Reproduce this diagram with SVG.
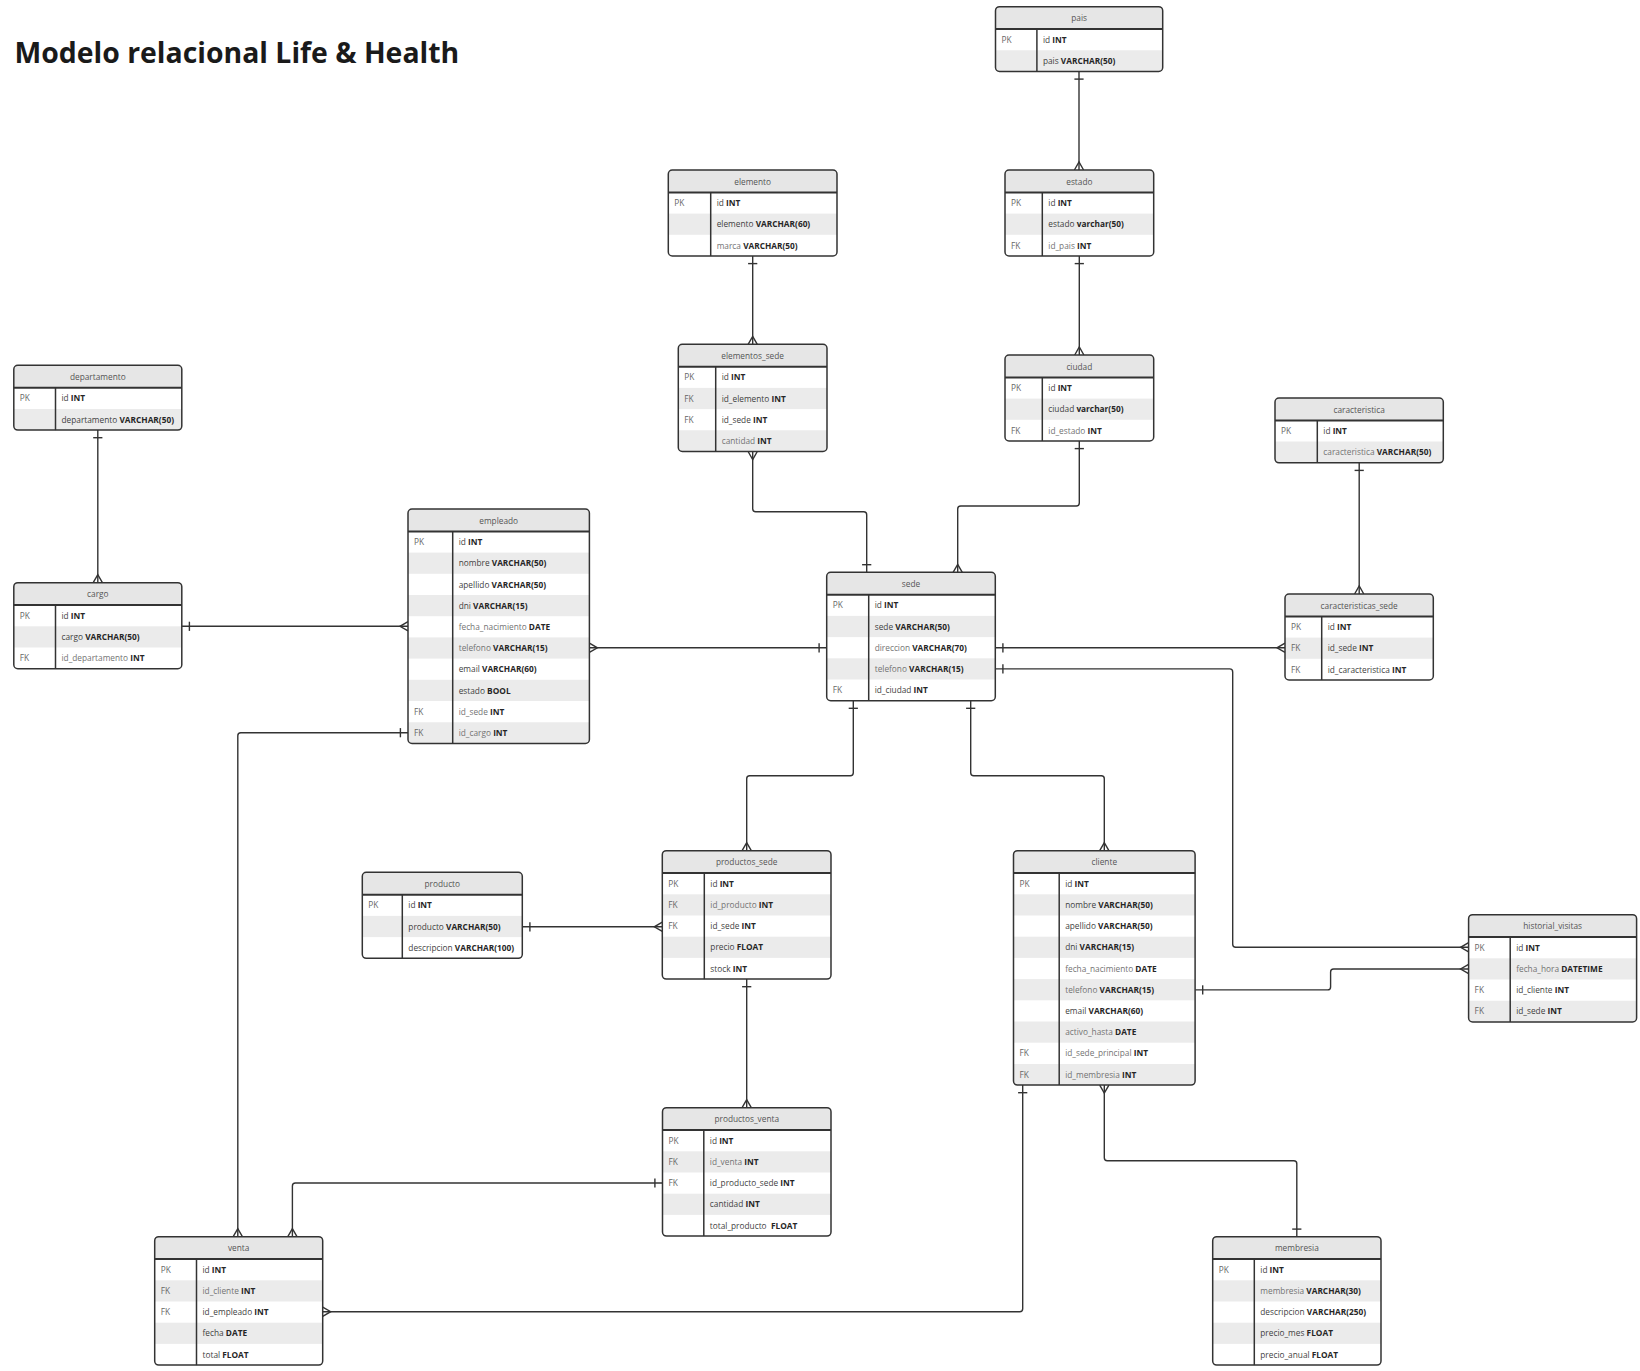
<svg xmlns="http://www.w3.org/2000/svg" width="1640" height="1371" viewBox="0 0 1640 1371">
<defs>
<style>
.box{fill:#fff}
.hd{fill:#e6e6e6}
.g{fill:#ebebeb}
.ol{fill:none;stroke:#333;stroke-width:1.5}
.hl{stroke:#333;stroke-width:2}
.dv{stroke:#333;stroke-width:1.5}
text{font-family:"Open Sans","Noto Sans","Liberation Sans",sans-serif;font-size:8.3px}
.title{font-size:28.4px;font-weight:bold;fill:#1a1a1a}
.h{fill:#555;text-anchor:middle}
.k{fill:#666}
.n{fill:#3f3f3f}
.l{fill:#737373}
.t{fill:#262626;font-weight:bold}
.c{fill:none;stroke:#333;stroke-width:1.4;marker-start:url(#one);marker-end:url(#many)}
.m{fill:none;stroke:#333;stroke-width:1.4}
</style>
<marker id="one" markerUnits="userSpaceOnUse" viewBox="-12 -12 24 24" markerWidth="24" markerHeight="24" refX="0" refY="0" orient="auto-start-reverse" overflow="visible"><path class="m" d="M-7.6,-4.6V4.6"/></marker>
<marker id="many" markerUnits="userSpaceOnUse" viewBox="-12 -12 24 24" markerWidth="24" markerHeight="24" refX="0" refY="0" orient="auto-start-reverse" overflow="visible"><path class="m" d="M0,-4.6L-8,0L0,4.6"/></marker>
</defs>
<rect width="1640" height="1371" fill="#fff"/>
<text class="title" x="14.5" y="63">Modelo relacional Life &amp; Health</text>

<g id="connectors">
<path class="c" d="M1079,71.5V170"/>
<path class="c" d="M752.7,256V344.3"/>
<path class="c" d="M1079.3,256V355"/>
<path class="c" d="M97.8,430.1V582.7"/>
<path class="c" d="M181.8,626.3H408"/>
<path class="c" d="M826.7,647.8H589.4"/>
<path class="c" d="M866.7,572.3V514.7Q866.7,511.7 863.7,511.7H755.7Q752.7,511.7 752.7,508.7V451.5"/>
<path class="c" d="M1079.3,441V503Q1079.3,506 1076.3,506H960.7Q957.7,506 957.7,509V572.3"/>
<path class="c" d="M1359.2,462.8V594"/>
<path class="c" d="M995.3,647.8H1285"/>
<path class="c" d="M995.3,668.9H1229.7Q1232.7,668.9 1232.7,671.9V944.3Q1232.7,947.3 1235.7,947.3H1468.6"/>
<path class="c" d="M853.3,700.7V772.7Q853.3,775.7 850.3,775.7H749.7Q746.7,775.7 746.7,778.7V850.7"/>
<path class="c" d="M970.7,700.7V772.7Q970.7,775.7 973.7,775.7H1101.3Q1104.3,775.7 1104.3,778.7V850.7"/>
<path class="c" d="M522.3,926.8H662.3"/>
<path class="c" d="M746.7,979.1V1107.7"/>
<path class="c" d="M1195.1,989.9H1327.6Q1330.6,989.9 1330.6,986.9V972Q1330.6,969 1333.6,969H1468.6"/>
<path class="c" d="M1296.8,1236.7V1163.7Q1296.8,1160.7 1293.8,1160.7H1107.3Q1104.3,1160.7 1104.3,1157.7V1085.1"/>
<path class="c" d="M1022.7,1085.1V1308.7Q1022.7,1311.7 1019.7,1311.7H322.7"/>
<path class="c" d="M408,732.7H240.8Q237.8,732.7 237.8,735.7V1236.7"/>
<path class="c" d="M662.5,1183H295.4Q292.4,1183 292.4,1186V1236.7"/>
</g>

<g id="pais" transform="translate(995.5,6.7)">
<rect class="box" width="167.2" height="64.8" rx="4"/>
<path class="hd" d="M0,22.4V4Q0,0 4,0H163.2Q167.2,0 167.2,4V22.4Z"/>
<path class="g" d="M0,43.6H167.2V60.8Q167.2,64.8 163.2,64.8H4Q0,64.8 0,60.8Z"/>
<line class="hl" x1="0" y1="22.4" x2="167.2" y2="22.4"/>
<line class="dv" x1="41.4" y1="22.4" x2="41.4" y2="64.8"/>
<rect class="ol" width="167.2" height="64.8" rx="4"/>
<text class="h" x="83.6" y="14.6">pais</text>
<text class="k" x="6" y="36.2">PK</text>
<text x="47.4" y="36.2"><tspan class="n">id </tspan><tspan class="t">INT</tspan></text>
<text x="47.4" y="57.4"><tspan class="n">pais </tspan><tspan class="t">VARCHAR(50)</tspan></text>
</g>

<g id="elemento" transform="translate(668.3,170)">
<rect class="box" width="168.7" height="86" rx="4"/>
<path class="hd" d="M0,22.4V4Q0,0 4,0H164.7Q168.7,0 168.7,4V22.4Z"/>
<rect class="g" y="43.6" width="168.7" height="21.2"/>
<line class="hl" x1="0" y1="22.4" x2="168.7" y2="22.4"/>
<line class="dv" x1="42.4" y1="22.4" x2="42.4" y2="86"/>
<rect class="ol" width="168.7" height="86" rx="4"/>
<text class="h" x="84.35" y="14.6">elemento</text>
<text class="k" x="6" y="36.2">PK</text>
<text x="48.4" y="36.2"><tspan class="n">id </tspan><tspan class="t">INT</tspan></text>
<text x="48.4" y="57.4"><tspan class="n">elemento </tspan><tspan class="t">VARCHAR(60)</tspan></text>
<text x="48.4" y="78.6"><tspan class="l">marca </tspan><tspan class="t">VARCHAR(50)</tspan></text>
</g>

<g id="estado" transform="translate(1005,170)">
<rect class="box" width="148.7" height="86" rx="4"/>
<path class="hd" d="M0,22.4V4Q0,0 4,0H144.7Q148.7,0 148.7,4V22.4Z"/>
<rect class="g" y="43.6" width="148.7" height="21.2"/>
<line class="hl" x1="0" y1="22.4" x2="148.7" y2="22.4"/>
<line class="dv" x1="37.3" y1="22.4" x2="37.3" y2="86"/>
<rect class="ol" width="148.7" height="86" rx="4"/>
<text class="h" x="74.35" y="14.6">estado</text>
<text class="k" x="6" y="36.2">PK</text>
<text x="43.3" y="36.2"><tspan class="n">id </tspan><tspan class="t">INT</tspan></text>
<text x="43.3" y="57.4"><tspan class="n">estado </tspan><tspan class="t">varchar(50)</tspan></text>
<text class="k" x="6" y="78.6">FK</text>
<text x="43.3" y="78.6"><tspan class="l">id_pais </tspan><tspan class="t">INT</tspan></text>
</g>

<g id="elementos_sede" transform="translate(678.3,344.3)">
<rect class="box" width="148.7" height="107.2" rx="4"/>
<path class="hd" d="M0,22.4V4Q0,0 4,0H144.7Q148.7,0 148.7,4V22.4Z"/>
<rect class="g" y="43.6" width="148.7" height="21.2"/>
<path class="g" d="M0,86H148.7V103.2Q148.7,107.2 144.7,107.2H4Q0,107.2 0,103.2Z"/>
<line class="hl" x1="0" y1="22.4" x2="148.7" y2="22.4"/>
<line class="dv" x1="37.4" y1="22.4" x2="37.4" y2="107.2"/>
<rect class="ol" width="148.7" height="107.2" rx="4"/>
<text class="h" x="74.35" y="14.6">elementos_sede</text>
<text class="k" x="6" y="36.2">PK</text>
<text x="43.4" y="36.2"><tspan class="n">id </tspan><tspan class="t">INT</tspan></text>
<text class="k" x="6" y="57.4">FK</text>
<text x="43.4" y="57.4"><tspan class="n">id_elemento </tspan><tspan class="t">INT</tspan></text>
<text class="k" x="6" y="78.6">FK</text>
<text x="43.4" y="78.6"><tspan class="n">id_sede </tspan><tspan class="t">INT</tspan></text>
<text x="43.4" y="99.8"><tspan class="l">cantidad </tspan><tspan class="t">INT</tspan></text>
</g>

<g id="ciudad" transform="translate(1005,355)">
<rect class="box" width="148.7" height="86" rx="4"/>
<path class="hd" d="M0,22.4V4Q0,0 4,0H144.7Q148.7,0 148.7,4V22.4Z"/>
<rect class="g" y="43.6" width="148.7" height="21.2"/>
<line class="hl" x1="0" y1="22.4" x2="148.7" y2="22.4"/>
<line class="dv" x1="37.3" y1="22.4" x2="37.3" y2="86"/>
<rect class="ol" width="148.7" height="86" rx="4"/>
<text class="h" x="74.35" y="14.6">ciudad</text>
<text class="k" x="6" y="36.2">PK</text>
<text x="43.3" y="36.2"><tspan class="n">id </tspan><tspan class="t">INT</tspan></text>
<text x="43.3" y="57.4"><tspan class="n">ciudad </tspan><tspan class="t">varchar(50)</tspan></text>
<text class="k" x="6" y="78.6">FK</text>
<text x="43.3" y="78.6"><tspan class="l">id_estado </tspan><tspan class="t">INT</tspan></text>
</g>

<g id="departamento" transform="translate(13.8,365.3)">
<rect class="box" width="168" height="64.8" rx="4"/>
<path class="hd" d="M0,22.4V4Q0,0 4,0H164Q168,0 168,4V22.4Z"/>
<path class="g" d="M0,43.6H168V60.8Q168,64.8 164,64.8H4Q0,64.8 0,60.8Z"/>
<line class="hl" x1="0" y1="22.4" x2="168" y2="22.4"/>
<line class="dv" x1="41.7" y1="22.4" x2="41.7" y2="64.8"/>
<rect class="ol" width="168" height="64.8" rx="4"/>
<text class="h" x="84" y="14.6">departamento</text>
<text class="k" x="6" y="36.2">PK</text>
<text x="47.7" y="36.2"><tspan class="n">id </tspan><tspan class="t">INT</tspan></text>
<text x="47.7" y="57.4"><tspan class="n">departamento </tspan><tspan class="t">VARCHAR(50)</tspan></text>
</g>

<g id="cargo" transform="translate(13.8,582.7)">
<rect class="box" width="168" height="86" rx="4"/>
<path class="hd" d="M0,22.4V4Q0,0 4,0H164Q168,0 168,4V22.4Z"/>
<rect class="g" y="43.6" width="168" height="21.2"/>
<line class="hl" x1="0" y1="22.4" x2="168" y2="22.4"/>
<line class="dv" x1="41.7" y1="22.4" x2="41.7" y2="86"/>
<rect class="ol" width="168" height="86" rx="4"/>
<text class="h" x="84" y="14.6">cargo</text>
<text class="k" x="6" y="36.2">PK</text>
<text x="47.7" y="36.2"><tspan class="n">id </tspan><tspan class="t">INT</tspan></text>
<text x="47.7" y="57.4"><tspan class="n">cargo </tspan><tspan class="t">VARCHAR(50)</tspan></text>
<text class="k" x="6" y="78.6">FK</text>
<text x="47.7" y="78.6"><tspan class="l">id_departamento </tspan><tspan class="t">INT</tspan></text>
</g>

<g id="empleado" transform="translate(408,509)">
<rect class="box" width="181.4" height="234.4" rx="4"/>
<path class="hd" d="M0,22.4V4Q0,0 4,0H177.4Q181.4,0 181.4,4V22.4Z"/>
<rect class="g" y="43.6" width="181.4" height="21.2"/>
<rect class="g" y="86" width="181.4" height="21.2"/>
<rect class="g" y="128.4" width="181.4" height="21.2"/>
<rect class="g" y="170.8" width="181.4" height="21.2"/>
<path class="g" d="M0,213.2H181.4V230.4Q181.4,234.4 177.4,234.4H4Q0,234.4 0,230.4Z"/>
<line class="hl" x1="0" y1="22.4" x2="181.4" y2="22.4"/>
<line class="dv" x1="44.7" y1="22.4" x2="44.7" y2="234.4"/>
<rect class="ol" width="181.4" height="234.4" rx="4"/>
<text class="h" x="90.7" y="14.6">empleado</text>
<text class="k" x="6" y="36.2">PK</text>
<text x="50.7" y="36.2"><tspan class="n">id </tspan><tspan class="t">INT</tspan></text>
<text x="50.7" y="57.4"><tspan class="n">nombre </tspan><tspan class="t">VARCHAR(50)</tspan></text>
<text x="50.7" y="78.6"><tspan class="n">apellido </tspan><tspan class="t">VARCHAR(50)</tspan></text>
<text x="50.7" y="99.8"><tspan class="n">dni </tspan><tspan class="t">VARCHAR(15)</tspan></text>
<text x="50.7" y="121"><tspan class="l">fecha_nacimiento </tspan><tspan class="t">DATE</tspan></text>
<text x="50.7" y="142.2"><tspan class="l">telefono </tspan><tspan class="t">VARCHAR(15)</tspan></text>
<text x="50.7" y="163.4"><tspan class="n">email </tspan><tspan class="t">VARCHAR(60)</tspan></text>
<text x="50.7" y="184.6"><tspan class="n">estado </tspan><tspan class="t">BOOL</tspan></text>
<text class="k" x="6" y="205.8">FK</text>
<text x="50.7" y="205.8"><tspan class="l">id_sede </tspan><tspan class="t">INT</tspan></text>
<text class="k" x="6" y="227">FK</text>
<text x="50.7" y="227"><tspan class="l">id_cargo </tspan><tspan class="t">INT</tspan></text>
</g>

<g id="caracteristica" transform="translate(1275,398)">
<rect class="box" width="168.3" height="64.8" rx="4"/>
<path class="hd" d="M0,22.4V4Q0,0 4,0H164.3Q168.3,0 168.3,4V22.4Z"/>
<path class="g" d="M0,43.6H168.3V60.8Q168.3,64.8 164.3,64.8H4Q0,64.8 0,60.8Z"/>
<line class="hl" x1="0" y1="22.4" x2="168.3" y2="22.4"/>
<line class="dv" x1="42.3" y1="22.4" x2="42.3" y2="64.8"/>
<rect class="ol" width="168.3" height="64.8" rx="4"/>
<text class="h" x="84.15" y="14.6">caracteristica</text>
<text class="k" x="6" y="36.2">PK</text>
<text x="48.3" y="36.2"><tspan class="n">id </tspan><tspan class="t">INT</tspan></text>
<text x="48.3" y="57.4"><tspan class="l">caracteristica </tspan><tspan class="t">VARCHAR(50)</tspan></text>
</g>

<g id="sede" transform="translate(826.7,572.3)">
<rect class="box" width="168.6" height="128.4" rx="4"/>
<path class="hd" d="M0,22.4V4Q0,0 4,0H164.6Q168.6,0 168.6,4V22.4Z"/>
<rect class="g" y="43.6" width="168.6" height="21.2"/>
<rect class="g" y="86" width="168.6" height="21.2"/>
<line class="hl" x1="0" y1="22.4" x2="168.6" y2="22.4"/>
<line class="dv" x1="42" y1="22.4" x2="42" y2="128.4"/>
<rect class="ol" width="168.6" height="128.4" rx="4"/>
<text class="h" x="84.3" y="14.6">sede</text>
<text class="k" x="6" y="36.2">PK</text>
<text x="48" y="36.2"><tspan class="n">id </tspan><tspan class="t">INT</tspan></text>
<text x="48" y="57.4"><tspan class="n">sede </tspan><tspan class="t">VARCHAR(50)</tspan></text>
<text x="48" y="78.6"><tspan class="l">direccion </tspan><tspan class="t">VARCHAR(70)</tspan></text>
<text x="48" y="99.8"><tspan class="l">telefono </tspan><tspan class="t">VARCHAR(15)</tspan></text>
<text class="k" x="6" y="121">FK</text>
<text x="48" y="121"><tspan class="n">id_ciudad </tspan><tspan class="t">INT</tspan></text>
</g>

<g id="caracteristicas_sede" transform="translate(1285,594)">
<rect class="box" width="148.3" height="86" rx="4"/>
<path class="hd" d="M0,22.4V4Q0,0 4,0H144.3Q148.3,0 148.3,4V22.4Z"/>
<rect class="g" y="43.6" width="148.3" height="21.2"/>
<line class="hl" x1="0" y1="22.4" x2="148.3" y2="22.4"/>
<line class="dv" x1="36.7" y1="22.4" x2="36.7" y2="86"/>
<rect class="ol" width="148.3" height="86" rx="4"/>
<text class="h" x="74.15" y="14.6">caracteristicas_sede</text>
<text class="k" x="6" y="36.2">PK</text>
<text x="42.7" y="36.2"><tspan class="n">id </tspan><tspan class="t">INT</tspan></text>
<text class="k" x="6" y="57.4">FK</text>
<text x="42.7" y="57.4"><tspan class="n">id_sede </tspan><tspan class="t">INT</tspan></text>
<text class="k" x="6" y="78.6">FK</text>
<text x="42.7" y="78.6"><tspan class="n">id_caracteristica </tspan><tspan class="t">INT</tspan></text>
</g>

<g id="producto" transform="translate(362.3,872.3)">
<rect class="box" width="160" height="86" rx="4"/>
<path class="hd" d="M0,22.4V4Q0,0 4,0H156Q160,0 160,4V22.4Z"/>
<rect class="g" y="43.6" width="160" height="21.2"/>
<line class="hl" x1="0" y1="22.4" x2="160" y2="22.4"/>
<line class="dv" x1="40" y1="22.4" x2="40" y2="86"/>
<rect class="ol" width="160" height="86" rx="4"/>
<text class="h" x="80" y="14.6">producto</text>
<text class="k" x="6" y="36.2">PK</text>
<text x="46" y="36.2"><tspan class="n">id </tspan><tspan class="t">INT</tspan></text>
<text x="46" y="57.4"><tspan class="n">producto </tspan><tspan class="t">VARCHAR(50)</tspan></text>
<text x="46" y="78.6"><tspan class="n">descripcion </tspan><tspan class="t">VARCHAR(100)</tspan></text>
</g>

<g id="productos_sede" transform="translate(662.3,850.7)">
<rect class="box" width="168.7" height="128.4" rx="4"/>
<path class="hd" d="M0,22.4V4Q0,0 4,0H164.7Q168.7,0 168.7,4V22.4Z"/>
<rect class="g" y="43.6" width="168.7" height="21.2"/>
<rect class="g" y="86" width="168.7" height="21.2"/>
<line class="hl" x1="0" y1="22.4" x2="168.7" y2="22.4"/>
<line class="dv" x1="42" y1="22.4" x2="42" y2="128.4"/>
<rect class="ol" width="168.7" height="128.4" rx="4"/>
<text class="h" x="84.35" y="14.6">productos_sede</text>
<text class="k" x="6" y="36.2">PK</text>
<text x="48" y="36.2"><tspan class="n">id </tspan><tspan class="t">INT</tspan></text>
<text class="k" x="6" y="57.4">FK</text>
<text x="48" y="57.4"><tspan class="l">id_producto </tspan><tspan class="t">INT</tspan></text>
<text class="k" x="6" y="78.6">FK</text>
<text x="48" y="78.6"><tspan class="n">id_sede </tspan><tspan class="t">INT</tspan></text>
<text x="48" y="99.8"><tspan class="n">precio </tspan><tspan class="t">FLOAT</tspan></text>
<text x="48" y="121"><tspan class="n">stock </tspan><tspan class="t">INT</tspan></text>
</g>

<g id="cliente" transform="translate(1013.5,850.7)">
<rect class="box" width="181.6" height="234.4" rx="4"/>
<path class="hd" d="M0,22.4V4Q0,0 4,0H177.6Q181.6,0 181.6,4V22.4Z"/>
<rect class="g" y="43.6" width="181.6" height="21.2"/>
<rect class="g" y="86" width="181.6" height="21.2"/>
<rect class="g" y="128.4" width="181.6" height="21.2"/>
<rect class="g" y="170.8" width="181.6" height="21.2"/>
<path class="g" d="M0,213.2H181.6V230.4Q181.6,234.4 177.6,234.4H4Q0,234.4 0,230.4Z"/>
<line class="hl" x1="0" y1="22.4" x2="181.6" y2="22.4"/>
<line class="dv" x1="45.7" y1="22.4" x2="45.7" y2="234.4"/>
<rect class="ol" width="181.6" height="234.4" rx="4"/>
<text class="h" x="90.8" y="14.6">cliente</text>
<text class="k" x="6" y="36.2">PK</text>
<text x="51.7" y="36.2"><tspan class="n">id </tspan><tspan class="t">INT</tspan></text>
<text x="51.7" y="57.4"><tspan class="n">nombre </tspan><tspan class="t">VARCHAR(50)</tspan></text>
<text x="51.7" y="78.6"><tspan class="n">apellido </tspan><tspan class="t">VARCHAR(50)</tspan></text>
<text x="51.7" y="99.8"><tspan class="n">dni </tspan><tspan class="t">VARCHAR(15)</tspan></text>
<text x="51.7" y="121"><tspan class="l">fecha_nacimiento </tspan><tspan class="t">DATE</tspan></text>
<text x="51.7" y="142.2"><tspan class="l">telefono </tspan><tspan class="t">VARCHAR(15)</tspan></text>
<text x="51.7" y="163.4"><tspan class="n">email </tspan><tspan class="t">VARCHAR(60)</tspan></text>
<text x="51.7" y="184.6"><tspan class="l">activo_hasta </tspan><tspan class="t">DATE</tspan></text>
<text class="k" x="6" y="205.8">FK</text>
<text x="51.7" y="205.8"><tspan class="l">id_sede_principal </tspan><tspan class="t">INT</tspan></text>
<text class="k" x="6" y="227">FK</text>
<text x="51.7" y="227"><tspan class="l">id_membresia </tspan><tspan class="t">INT</tspan></text>
</g>

<g id="historial_visitas" transform="translate(1468.6,914.7)">
<rect class="box" width="168" height="107.2" rx="4"/>
<path class="hd" d="M0,22.4V4Q0,0 4,0H164Q168,0 168,4V22.4Z"/>
<rect class="g" y="43.6" width="168" height="21.2"/>
<path class="g" d="M0,86H168V103.2Q168,107.2 164,107.2H4Q0,107.2 0,103.2Z"/>
<line class="hl" x1="0" y1="22.4" x2="168" y2="22.4"/>
<line class="dv" x1="41.6" y1="22.4" x2="41.6" y2="107.2"/>
<rect class="ol" width="168" height="107.2" rx="4"/>
<text class="h" x="84" y="14.6">historial_visitas</text>
<text class="k" x="6" y="36.2">PK</text>
<text x="47.6" y="36.2"><tspan class="n">id </tspan><tspan class="t">INT</tspan></text>
<text x="47.6" y="57.4"><tspan class="l">fecha_hora </tspan><tspan class="t">DATETIME</tspan></text>
<text class="k" x="6" y="78.6">FK</text>
<text x="47.6" y="78.6"><tspan class="n">id_cliente </tspan><tspan class="t">INT</tspan></text>
<text class="k" x="6" y="99.8">FK</text>
<text x="47.6" y="99.8"><tspan class="n">id_sede </tspan><tspan class="t">INT</tspan></text>
</g>

<g id="productos_venta" transform="translate(662.5,1107.7)">
<rect class="box" width="168.5" height="128.4" rx="4"/>
<path class="hd" d="M0,22.4V4Q0,0 4,0H164.5Q168.5,0 168.5,4V22.4Z"/>
<rect class="g" y="43.6" width="168.5" height="21.2"/>
<rect class="g" y="86" width="168.5" height="21.2"/>
<line class="hl" x1="0" y1="22.4" x2="168.5" y2="22.4"/>
<line class="dv" x1="41.3" y1="22.4" x2="41.3" y2="128.4"/>
<rect class="ol" width="168.5" height="128.4" rx="4"/>
<text class="h" x="84.25" y="14.6">productos_venta</text>
<text class="k" x="6" y="36.2">PK</text>
<text x="47.3" y="36.2"><tspan class="n">id </tspan><tspan class="t">INT</tspan></text>
<text class="k" x="6" y="57.4">FK</text>
<text x="47.3" y="57.4"><tspan class="l">id_venta </tspan><tspan class="t">INT</tspan></text>
<text class="k" x="6" y="78.6">FK</text>
<text x="47.3" y="78.6"><tspan class="n">id_producto_sede </tspan><tspan class="t">INT</tspan></text>
<text x="47.3" y="99.8"><tspan class="n">cantidad </tspan><tspan class="t">INT</tspan></text>
<text x="47.3" y="121" xml:space="preserve"><tspan class="n">total_producto  </tspan><tspan class="t">FLOAT</tspan></text>
</g>

<g id="venta" transform="translate(154.7,1236.7)">
<rect class="box" width="168" height="128.4" rx="4"/>
<path class="hd" d="M0,22.4V4Q0,0 4,0H164Q168,0 168,4V22.4Z"/>
<rect class="g" y="43.6" width="168" height="21.2"/>
<rect class="g" y="86" width="168" height="21.2"/>
<line class="hl" x1="0" y1="22.4" x2="168" y2="22.4"/>
<line class="dv" x1="41.8" y1="22.4" x2="41.8" y2="128.4"/>
<rect class="ol" width="168" height="128.4" rx="4"/>
<text class="h" x="84" y="14.6">venta</text>
<text class="k" x="6" y="36.2">PK</text>
<text x="47.8" y="36.2"><tspan class="n">id </tspan><tspan class="t">INT</tspan></text>
<text class="k" x="6" y="57.4">FK</text>
<text x="47.8" y="57.4"><tspan class="l">id_cliente </tspan><tspan class="t">INT</tspan></text>
<text class="k" x="6" y="78.6">FK</text>
<text x="47.8" y="78.6"><tspan class="n">id_empleado </tspan><tspan class="t">INT</tspan></text>
<text x="47.8" y="99.8"><tspan class="n">fecha </tspan><tspan class="t">DATE</tspan></text>
<text x="47.8" y="121"><tspan class="n">total </tspan><tspan class="t">FLOAT</tspan></text>
</g>

<g id="membresia" transform="translate(1212.7,1236.7)">
<rect class="box" width="168.3" height="128.4" rx="4"/>
<path class="hd" d="M0,22.4V4Q0,0 4,0H164.3Q168.3,0 168.3,4V22.4Z"/>
<rect class="g" y="43.6" width="168.3" height="21.2"/>
<rect class="g" y="86" width="168.3" height="21.2"/>
<line class="hl" x1="0" y1="22.4" x2="168.3" y2="22.4"/>
<line class="dv" x1="41.6" y1="22.4" x2="41.6" y2="128.4"/>
<rect class="ol" width="168.3" height="128.4" rx="4"/>
<text class="h" x="84.15" y="14.6">membresia</text>
<text class="k" x="6" y="36.2">PK</text>
<text x="47.6" y="36.2"><tspan class="n">id </tspan><tspan class="t">INT</tspan></text>
<text x="47.6" y="57.4"><tspan class="l">membresia </tspan><tspan class="t">VARCHAR(30)</tspan></text>
<text x="47.6" y="78.6"><tspan class="n">descripcion </tspan><tspan class="t">VARCHAR(250)</tspan></text>
<text x="47.6" y="99.8"><tspan class="n">precio_mes </tspan><tspan class="t">FLOAT</tspan></text>
<text x="47.6" y="121"><tspan class="n">precio_anual </tspan><tspan class="t">FLOAT</tspan></text>
</g>
</svg>
